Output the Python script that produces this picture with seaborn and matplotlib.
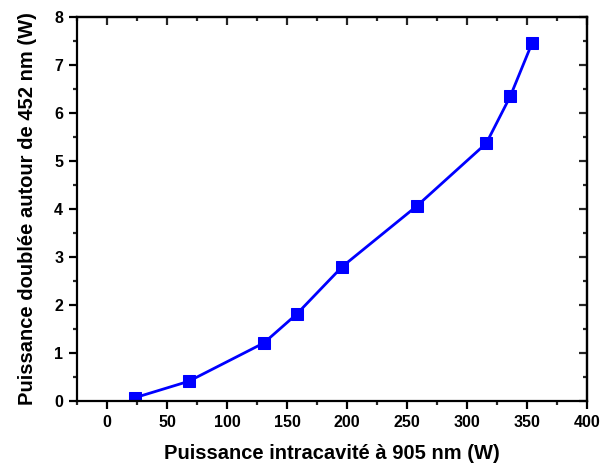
import matplotlib
matplotlib.use("Agg")
import matplotlib.pyplot as plt
import seaborn as sns
import pandas as pd
from matplotlib.ticker import MultipleLocator

x_power = [23.4, 68, 130.7, 158, 196, 258, 316, 336, 354]
y_power = [0.07, 0.41, 1.21, 1.81, 2.80, 4.06, 5.37, 6.35, 7.45]
x_ticks = [0, 50, 100, 150, 200, 250, 300, 350, 400]
y_ticks = [0, 1, 2, 3, 4, 5, 6, 7, 8]
x_label = "Puissance intracavité à 905 nm (W)"
y_label = "Puissance doublée autour de 452 nm (W)"

sns.set_style("white")
plt.rcParams['font.family'] = ['Liberation Sans', 'DejaVu Sans']
plt.rcParams['font.weight'] = 'bold'
plt.rcParams['text.color'] = 'black'
plt.rcParams['axes.labelcolor'] = 'black'

df = pd.DataFrame({"x": x_power, "y": y_power})

fig = plt.figure(figsize=(6.03, 4.65), dpi=100)
ax = fig.add_axes([0.1277, 0.1376, 0.8460, 0.8258])

sns.lineplot(data=df, x="x", y="y", ax=ax, color="#0000FF", marker="s",
             markersize=8, markeredgecolor="#0000FF", linewidth=2,
             sort=False)

ax.set_xlim(-25, 400)
ax.set_ylim(0, 8)
ax.set_xticks(x_ticks)
ax.set_yticks(y_ticks)
ax.xaxis.set_minor_locator(MultipleLocator(25))
ax.yaxis.set_minor_locator(MultipleLocator(0.5))

for s in ax.spines.values():
    s.set_linewidth(1.6)
    s.set_color("black")

ax.tick_params(axis='both', which='major', direction='out', length=6, width=1.6,
               labelsize=11.5, colors='black', pad=4)
ax.tick_params(axis='both', which='minor', direction='out', length=3, width=1.6)
ax.tick_params(axis='both', which='both', bottom=True, left=True, top=False, right=False)
for lab in ax.get_xticklabels() + ax.get_yticklabels():
    lab.set_fontweight('bold')

# mirrored ticks pointing inward on top and right
axt = ax.secondary_xaxis('top')
axt.set_xticks(x_ticks)
axt.xaxis.set_minor_locator(MultipleLocator(25))
axt.tick_params(which='major', direction='in', length=6, width=1.6, labeltop=False)
axt.tick_params(which='minor', direction='in', length=3, width=1.6)
axt.spines['top'].set_linewidth(1.6)
axr = ax.secondary_yaxis('right')
axr.set_yticks(y_ticks)
axr.yaxis.set_minor_locator(MultipleLocator(0.5))
axr.tick_params(which='major', direction='in', length=6, width=1.6, labelright=False)
axr.tick_params(which='minor', direction='in', length=3, width=1.6)
axr.spines['right'].set_linewidth(1.6)

ax.set_xlabel(x_label, fontsize=14.5, fontweight='bold', color='black', labelpad=10)
ax.set_ylabel(y_label, fontsize=14.5, fontweight='bold', color='black', labelpad=12)

fig.savefig("out.png", dpi=100)
